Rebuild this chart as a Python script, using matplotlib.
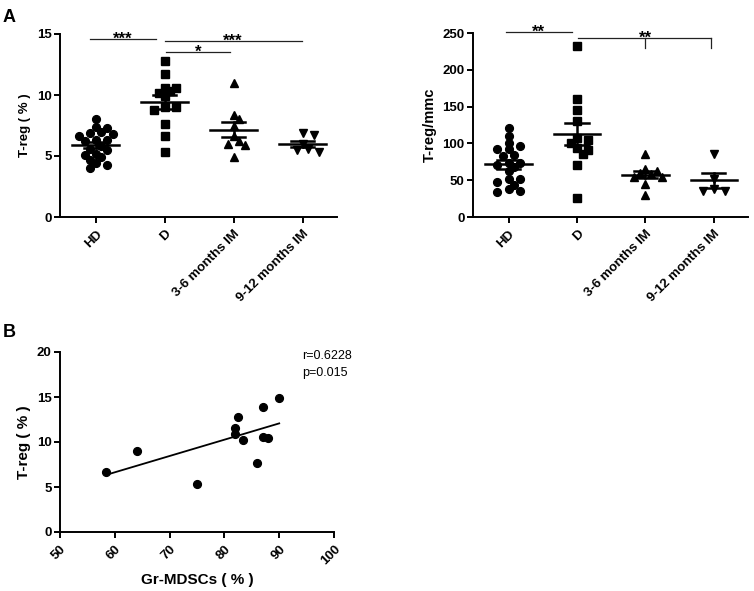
import numpy as np
import matplotlib
matplotlib.use('Agg')
import matplotlib.pyplot as plt

plt.rcParams['font.family'] = ['Liberation Sans', 'DejaVu Sans']

# ---------------- data ----------------
categories = ['HD', 'D', '3-6 months IM', '9-12 months IM']
group_markers = ['o', 's', '^', 'v']

treg_pct_hd = [8.0, 7.4, 7.3, 7.0, 6.85, 6.8, 6.6, 6.3, 6.3, 6.2,
               5.8, 5.6, 5.5, 5.2, 5.1, 4.9, 4.7, 4.4, 4.25, 4.0]
treg_pct_d = [12.8, 11.7, 10.6, 10.6, 10.3, 10.2, 9.9, 9.0, 9.0, 8.8, 7.6, 6.6, 5.3]
treg_pct_im36 = [11.0, 8.4, 8.0, 7.5, 6.6, 6.2, 6.0, 5.9, 4.9]
treg_pct_im912 = [6.85, 6.7, 6.0, 5.55, 5.5, 5.35]

treg_mmc_hd = [121, 110, 101, 97, 92, 92, 84, 83, 73, 73, 71, 68, 62,
               52, 52, 48, 44, 38, 36, 34]
treg_mmc_d = [233, 160, 145, 130, 108, 104, 100, 94, 91, 86, 70, 26]
treg_mmc_im36 = [85, 65, 63, 60, 58, 55, 55, 45, 30]
treg_mmc_im912 = [86, 52, 38, 36, 36]

mdsc_pct = [58.4, 64.0, 75.0, 82.0, 82.0, 82.5, 83.4, 86.0, 87.0, 87.0, 88.0, 90.0]
treg_pct_corr = [6.64, 9.0, 5.3, 11.6, 10.9, 12.8, 10.2, 7.7, 13.9, 10.6, 10.5, 14.9]
corr_text = ['r=0.6228', 'p=0.015']

# ---------------- figure ----------------
fig = plt.figure(figsize=(7.54, 5.91), dpi=100)

ax1 = fig.add_axes([60/754, 1-217/591, 277/754, 183/591])
ax2 = fig.add_axes([473/754, 1-217/591, 275/754, 184/591])
ax3 = fig.add_axes([60/754, 1-532/591, 274/754, 180/591])

LW = 1.4
FS_TICK = 9.5


def style(ax, pad=2):
    for s in ['top', 'right']:
        ax.spines[s].set_visible(False)
    for s in ['left', 'bottom']:
        ax.spines[s].set_linewidth(LW)
    ax.tick_params(width=LW, length=4, labelsize=FS_TICK, pad=pad)
    for lab in ax.get_xticklabels() + ax.get_yticklabels():
        lab.set_fontweight('bold')


def swarm(ax, xc, vals, diam=6.6, step=5.6, maxoff=18):
    trans = ax.transData
    disp = [trans.transform((xc, v)) for v in vals]
    X0 = disp[0][0]
    placed = []
    xs = []
    cands = [0.0]
    for i in range(1, 40):
        cands += [i * step, -i * step]
    for (dx, dy) in disp:
        chosen = None
        for off in cands:
            if abs(off) > maxoff:
                continue
            ok = all((X0 + off - px) ** 2 + (dy - py) ** 2 >= diam ** 2
                     for (px, py) in placed)
            if ok:
                chosen = off
                break
        if chosen is None:
            # least overlapping candidate within limits
            best, bestd = 0.0, -1
            for off in cands:
                if abs(off) > maxoff:
                    continue
                d = min([(X0 + off - px) ** 2 + (dy - py) ** 2 for (px, py) in placed] or [1e9])
                if d > bestd:
                    best, bestd = off, d
            chosen = best
        placed.append((X0 + chosen, dy))
        xs.append(X0 + chosen)
    inv = trans.inverted()
    return [inv.transform((x, d[1]))[0] for x, d in zip(xs, disp)]


def dotplot(ax, groups, ylim, yticks, ylabel, ylfs):
    ax.set_xlim(-0.52, 3.5)
    ax.set_ylim(*ylim)
    ax.set_yticks(yticks)
    ax.set_xticks(range(len(categories)))
    ax.set_xticklabels(categories, rotation=45, ha='right',
                       rotation_mode='anchor')
    style(ax, pad=4)
    ax.tick_params(axis='y', pad=2)
    ax.set_ylabel(ylabel, fontsize=ylfs, fontweight='bold', labelpad=4)
    fig.canvas.draw()
    for i, (vals, m) in enumerate(zip(groups, group_markers)):
        xs = swarm(ax, i, vals)
        ax.plot(xs, vals, linestyle='none', marker=m, markersize=5.6,
                color='black', clip_on=False, zorder=3)
        v = np.array(vals, dtype=float)
        mean = v.mean()
        sem = v.std(ddof=1) / np.sqrt(len(v))
        ax.plot([i - 0.34, i + 0.34], [mean, mean], color='black', lw=1.8, zorder=4)
        ax.plot([i, i], [mean - sem, mean + sem], color='black', lw=1.8, zorder=4)
        for y in (mean - sem, mean + sem):
            ax.plot([i - 0.17, i + 0.17], [y, y], color='black', lw=1.8, zorder=4)


dotplot(ax1, [treg_pct_hd, treg_pct_d, treg_pct_im36, treg_pct_im912],
        (0, 15), [0, 5, 10, 15], 'T-reg ( % )', 9.5)
dotplot(ax2, [treg_mmc_hd, treg_mmc_d, treg_mmc_im36, treg_mmc_im912],
        (0, 250), [0, 50, 100, 150, 200, 250], 'T-reg/mmc', 10.5)

# significance bars
sig_kw = dict(color='#222222', lw=0.9, clip_on=False)


def stars(ax, x, y, s):
    ax.annotate(s, (x, y), xytext=(0, -3.5), textcoords='offset points',
                ha='center', va='baseline', fontsize=12, fontweight='bold',
                annotation_clip=False)


ax1.plot([-0.09, 0.875], [14.6, 14.6], **sig_kw)
stars(ax1, 0.39, 14.6, '***')
ax1.plot([0.997, 2.99], [14.4, 14.4], **sig_kw)
stars(ax1, 1.99, 14.4, '***')
ax1.plot([1.017, 1.94], [13.5, 13.5], **sig_kw)
stars(ax1, 1.48, 13.5, '*')

ax2.plot([-0.04, 0.92], [251, 251], **sig_kw)
stars(ax2, 0.44, 251, '**')
ax2.plot([1.02, 2.96], [243, 243], **sig_kw)
ax2.plot([2.0, 2.0], [243, 230], **sig_kw)
ax2.plot([2.96, 2.96], [243, 230], **sig_kw)
stars(ax2, 2.0, 243, '**')

# ---------------- panel B ----------------
ax3.set_xlim(50, 100)
ax3.set_ylim(0, 20)
ax3.set_xticks([50, 60, 70, 80, 90, 100])
ax3.set_yticks([0, 5, 10, 15, 20])
ax3.set_xticklabels(ax3.get_xticks(), rotation=45, ha='right',
                    rotation_mode='anchor')
style(ax3, pad=4)
ax3.tick_params(axis='y', pad=2)
ax3.plot(mdsc_pct, treg_pct_corr, linestyle='none', marker='o',
         markersize=5.6, color='black', zorder=3)
slope, icpt = np.polyfit(mdsc_pct, treg_pct_corr, 1)
xl = np.array([min(mdsc_pct), max(mdsc_pct)])
ax3.plot(xl, slope * xl + icpt, color='black', lw=1.3)
ax3.set_ylabel('T-reg ( % )', fontsize=11, fontweight='bold', labelpad=4)
ax3.set_xlabel('Gr-MDSCs ( % )', fontsize=11, fontweight='bold', labelpad=4)
ax3.text(301.7/754, 1-356/591, corr_text[0], transform=fig.transFigure,
         fontsize=9, va='center', ha='left')
ax3.text(301.7/754, 1-373/591, corr_text[1], transform=fig.transFigure,
         fontsize=9, va='center', ha='left')

fig.text(3/754, 1-9/591, 'A', fontsize=13, fontweight='bold', va='top', ha='left')
fig.text(3/754, 1-324/591, 'B', fontsize=13, fontweight='bold', va='top', ha='left')

fig.savefig('out.png', dpi=100)
